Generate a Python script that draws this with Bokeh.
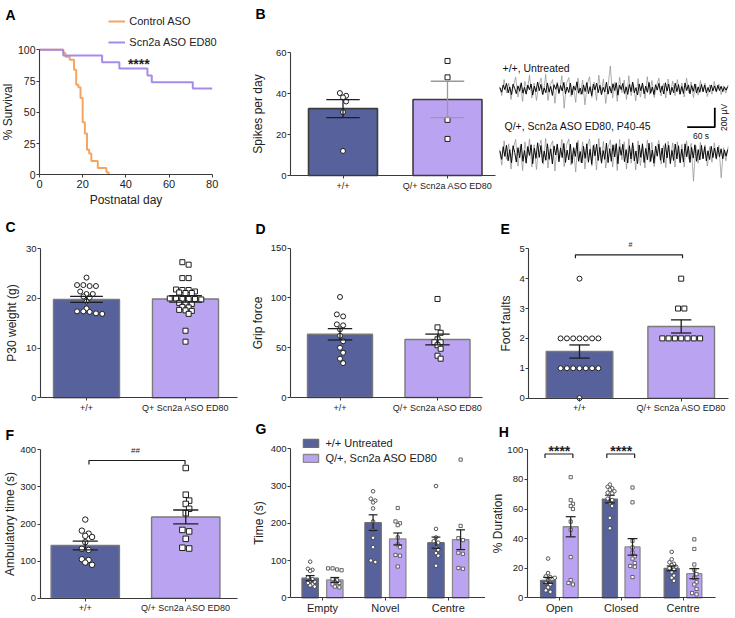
import numpy as np
from bokeh.plotting import figure
from bokeh.models import Range1d, FixedTicker, Label, Legend, LegendItem
from bokeh.layouts import row, column
from bokeh.embed import file_html
from bokeh.resources import INLINE

FONT = "Liberation Sans"
BLUE = "#57619B"
PURPLE = "#BAA3F0"
ORANGE = "#F5A55F"
LAV = "#A58BEB"
AX = "#3a3a3a"
INK = "#1e1e1e"

# ---------------- data ----------------
# A: survival
A_SERIES = ["Control ASO", "Scn2a ASO ED80"]
A_CTRL_DAY = [0, 11, 12, 14, 16, 17, 18, 19, 20, 21, 22, 23, 24, 27, 31, 32]
A_CTRL_SURV = [100, 97.5, 94.5, 92, 84, 72, 70, 61.5, 42, 33, 20, 17, 11, 5.5, 2, 0]
A_ASO_DAY = [0, 11, 29, 37, 50, 52, 71, 80]
A_ASO_SURV = [100, 95.5, 90, 85, 79.5, 74, 69, 69]
A_SIG = "****"

# B: spikes per day
B_CATS = ["+/+", "Q/+ Scn2a ASO ED80"]
B_MEAN = [32.7, 37.2]
B_SEM = [4.4, 8.9]
B_WT = [39, 40.3, 38.2, 36.2, 31, 12]
B_Q = [56, 48, 27.2, 17.9]

# B traces: successive sample amplitudes (microvolts)
TR_LABELS = ["+/+, Untreated", "Q/+, Scn2a ASO ED80, P40-45"]
T1_IN = [12, -35, 40, -8, 55, -42, 20, -60, 48, 5, -50, 30, -25, 62, -45, 15, -55, 38, -10, 50,
         -65, 28, -30, 70, -20, 45, -58, 10, -40, 60, -35, 25, -68, 42, -5, 55, -48, 33, -22, 66,
         -52, 18, -38, 58, -62, 30, -15, 72, -45, 8, -56, 40, -28, 64, -50, 22, -70, 48, -12, 58,
         -40, 35, -60, 15, -33, 68, -55, 26, -44, 52, -18, 62, -66, 38, -8, 55, -48, 20, -58, 45,
         -30, 70, -42, 12, -64, 50, -20, 60, -52, 28, -36, 66, -46, 18, -60, 42, -14, 56, -38, 30,
         -54, 62, -24, 48, -62, 16, -40, 58, -30, 44, -56, 24, -48, 60, -18, 40, -52, 34, -26, 50,
         -44, 20, -36, 46, -30, 38, -42, 14, -34, 40, -22, 30, -28, 36, -18, 26, -30, 20, -14, 22]
T1_OUT = [20, -70, 95, -40, 60, -110, 30, 120, -85, 45, -130, 75, -20, 140, -95, 60, -120, 35, 110, -60,
          150, -120, 40, 95, -150, 70, -30, 135, -200, 55, 115, -80, 25, -140, 110, -60, 90, -165, 45, 125,
          -90, 70, -120, 140, -50, 100, -150, 30, 235, -95, 65, -130, 120, -40, 90, -110, 135, -70, 50, -125,
          105, -85, 40, -100, 125, -60, 85, -90, 30, 110, -75, 55, -95, 100, -45, 80, -70, 95, -55, 60,
          -85, 110, -40, 70, -90, 50, -65, 85, -30, 60, -80, 40, -55, 75, -35, 50, -60, 30, -45, 40]
T2_IN = [25, -60, 70, -30, 85, -75, 40, -95, 80, 10, -88, 60, -45, 98, -80, 30, -100, 72, -20, 90,
         -105, 55, -50, 110, -40, 82, -96, 25, -70, 100, -60, 48, -108, 78, -15, 95, -86, 58, -42, 104,
         -92, 35, -66, 96, -102, 60, -30, 112, -80, 20, -98, 74, -50, 100, -90, 44, -110, 82, -24, 96,
         -72, 64, -100, 30, -60, 108, -94, 50, -80, 90, -36, 102, -106, 70, -18, 94, -84, 40, -98, 80,
         -56, 110, -76, 26, -104, 88, -40, 100, -92, 52, -64, 106, -82, 36, -100, 76, -28, 96, -70, 56,
         -94, 102, -46, 84, -104, 32, -72, 98, -56, 80, -96, 46, -86, 100, -34, 74, -92, 62, -48, 90,
         -80, 40, -66, 84, -54, 70, -76, 28, -62, 74, -42, 56, -52, 66, -34, 48, -56, 38, -28, 40]
T2_OUT = [40, -120, 130, -60, 100, -160, 55, 145, -130, 80, -175, 120, -40, 150, -140, 90, -165, 60, 140, -110,
          155, -150, 70, 130, -180, 100, -55, 145, -135, 85, 150, -120, 45, -190, 135, -90, 120, -160, 70, 150,
          -130, 95, -170, 155, -75, 125, -150, 60, 140, -140, 90, -175, 145, -65, 120, -160, 150, -100, 80, -170,
          130, -125, 70, -150, 140, -90, 115, -135, 55, 135, -110, 85, -145, 125, -70, 110, -140, 120, -80, 95,
          -140, 130, -60, 105, -285, 80, -100, 115, -55, 90, -130, 70, -90, 110, -60, 85, -250, 60, -75, 70]
TRACE_SECONDS = 497
TRACE_GAP_UV = -667
SCALE_T = 60
SCALE_UV = 200

# C: P30 weight
C_CATS = ["+/+", "Q+ Scn2a ASO ED80"]
C_MEAN = [19.8, 19.9]
C_SEM = [0.6, 0.65]
C_WT = [24.2, 22.7, 22.5, 22.5, 22.7, 21.4, 20.9, 20.9, 20.4, 20.2, 19.4, 18.0, 17.4, 17.4,
        17.0, 16.9, 17.3]
C_Q = [27.3, 26.8, 24.1, 24.1, 21.7, 21.8, 21.4, 21.7, 21.1, 21.2, 21.1, 20.0, 19.9, 19.9,
       19.8, 20.0, 19.9, 19.0, 19.1, 18.9, 18.3, 18.2, 17.6, 17.7, 17.5, 16.9, 13.5, 11.3]

# D: grip force
D_CATS = ["+/+", "Q/+ Scn2a ASO ED80"]
D_MEAN = [63.5, 58.3]
D_SEM = [5.7, 5.4]
D_WT = [101, 83.5, 81.5, 73.5, 72.5, 68.5, 62, 56.5, 50, 45, 39, 34.5]
D_Q = [99, 70.5, 65, 58.5, 55.5, 55.5, 52.5, 49, 42, 39]

# E: foot faults
E_CATS = ["+/+", "Q/+ Scn2a ASO ED80"]
E_MEAN = [1.56, 2.4]
E_SEM = [0.22, 0.22]
E_WT = [4, 2, 2, 2, 2, 2, 2, 2, 1, 1, 1, 1, 1, 1, 1, 0]
E_Q = [4, 3, 3, 2, 2, 2, 2, 2, 2, 2]
E_SIG = "#"

# F: ambulatory time
F_CATS = ["+/+", "Q/+ Scn2a ASO ED80"]
F_MEAN = [142, 219]
F_SEM = [11.6, 18.8]
F_WT = [212, 182, 174, 168, 165, 151, 133, 130, 105, 103, 96, 90]
F_Q = [351, 279, 263, 254, 241, 229, 184, 180, 160, 136, 134]
F_SIG = "##"

# G: time (s)
G_SERIES = ["+/+ Untreated", "Q/+, Scn2a ASO ED80"]
G_CATS = ["Empty", "Novel", "Centre"]
G_MEAN_WT = [52.7, 201.8, 148]
G_SEM_WT = [7, 21, 15]
G_MEAN_Q = [48, 158, 156]
G_SEM_Q = [6.5, 16, 26.5]
G_PTS_WT = [[97, 78, 75, 72, 55, 50, 46, 43, 40, 36, 33, 30],
            [286, 266, 261, 256, 240, 205, 182, 161, 136, 100, 96],
            [300, 185, 162, 152, 148, 136, 129, 120, 113, 86]]
G_PTS_Q = [[79, 79, 76, 74, 50, 47, 42, 40, 36, 32, 30, 28],
           [241, 205, 200, 195, 162, 143, 136, 115, 113, 84],
           [371, 193, 160, 155, 121, 118, 80, 78]]

# H: % duration
H_CATS = ["Open", "Closed", "Centre"]
H_MEAN_WT = [11.8, 66.7, 19.9]
H_SEM_WT = [2, 2.6, 1.6]
H_MEAN_Q = [48, 34.4, 16.3]
H_SEM_Q = [6.8, 5.6, 3.4]
H_PTS_WT = [[26.5, 16.7, 14.5, 14, 13.5, 12, 10, 9, 7, 5, 4],
            [76.5, 75, 74, 73, 72, 71, 70.5, 67, 66, 64, 62, 54, 47],
            [31, 26, 24, 23, 22, 21, 20, 19, 17.5, 15, 13.5, 11.5]]
H_PTS_Q = [[81.5, 66, 63.5, 62, 60, 51.5, 46, 27.5, 12, 10, 9],
           [74.5, 64.5, 38.5, 34, 30.5, 28, 26.5, 23.5, 21.5, 21, 14],
           [39.5, 33, 22.5, 19, 16, 13.5, 10.5, 9, 6, 3.2, 2.3]]
H_SIG = "****"


# ---------------- layout helpers ----------------
class Pan:
    """A figure whose frame fills its canvas; page pixel <-> data mapping."""

    def __init__(self, x0, y0, w, h, X0, SX, Y0, SY):
        self.x0, self.y0, self.w, self.h = x0, y0, w, h
        self.X0, self.SX, self.Y0, self.SY = X0, SX, Y0, SY

    def dx(self, px):
        return (px - self.X0) / self.SX

    def dy(self, py):
        return (self.Y0 - py) / self.SY

    def fig(self, axes=True):
        kw = dict(width=self.w, height=self.h,
                  x_range=Range1d(self.dx(self.x0), self.dx(self.x0 + self.w)),
                  y_range=Range1d(self.dy(self.y0 + self.h), self.dy(self.y0)),
                  output_backend="svg", toolbar_location=None, title=None, min_border=0)
        if not axes:
            kw.update(x_axis_location=None, y_axis_location=None)
        p = figure(**kw)
        p.outline_line_color = None
        p.grid.visible = False
        p.border_fill_color = "white"
        return p


def style_axes(p, pan, yaxis_px, xend_px, xticks, xlabels, yticks, ylabel, xlabel=None,
               xfs="9px", yfs="9.5px", ystand=2, xstand=2):
    for ax in p.axis:
        ax.axis_line_color = AX
        ax.axis_line_width = 1.1
        ax.major_tick_line_color = AX
        ax.major_tick_out = 3
        ax.major_tick_in = 0
        ax.minor_tick_line_color = None
        ax.major_label_text_font = FONT
        ax.major_label_text_color = "#222222"
        ax.axis_label_text_font = FONT
        ax.axis_label_text_font_style = "normal"
        ax.axis_label_text_font_size = "12px"
        ax.axis_label_text_color = "#222222"
    xa = pan.dx(yaxis_px)
    p.yaxis.fixed_location = xa
    p.yaxis.bounds = (yticks[0], yticks[-1])
    p.yaxis.ticker = FixedTicker(ticks=yticks)
    p.yaxis.major_label_text_font_size = yfs
    p.yaxis.major_label_standoff = 1
    p.yaxis.axis_label = ylabel
    p.yaxis.axis_label_standoff = ystand
    p.xaxis.fixed_location = 0
    p.xaxis.bounds = (xa, pan.dx(xend_px))
    p.xaxis.ticker = FixedTicker(ticks=xticks)
    if xlabels is not None:
        p.xaxis.major_label_overrides = {t: l for t, l in zip(xticks, xlabels)}
    p.xaxis.major_label_text_font_size = xfs
    p.xaxis.major_label_standoff = xstand
    if xlabel:
        p.xaxis.axis_label = xlabel
        p.xaxis.axis_label_standoff = 2


def letter(p, pan, lx, ly, ch):
    p.add_layout(Label(x=pan.dx(lx), y=pan.dy(ly), text=ch, text_font=FONT,
                       text_font_size="14px", text_font_style="bold",
                       text_baseline="middle", text_align="left", text_color="black"))


def note(p, pan, px, py, text, fs, bold=False):
    p.add_layout(Label(x=pan.dx(px), y=pan.dy(py), text=text, text_font=FONT,
                       text_font_size=fs, text_font_style="bold" if bold else "normal",
                       text_align="center", text_baseline="middle", text_color=INK))


def legend_at(p, pan, items, left_px, bottom_px, **kw):
    # legend tuple location = bottom-left corner, in pixels from the frame's bottom-left
    lg = Legend(items=items, location=(left_px - pan.x0, pan.y0 + pan.h - bottom_px),
                orientation="vertical", padding=0, margin=0, border_line_color=None,
                background_fill_alpha=0, label_text_font=FONT, label_text_color="#222222",
                **kw)
    p.add_layout(lg, "center")


def swarm(vals, ypu, xpu, d):
    idx = sorted(range(len(vals)), key=lambda i: -vals[i])
    rows = []
    for i in idx:
        y = vals[i] * ypu
        if rows and abs(rows[-1][0] - y) < 0.45 * d:
            rows[-1][1].append(i)
        else:
            rows.append([y, [i]])
    offs = [0.0] * len(vals)
    prev = None
    for y, members in rows:
        n = len(members)
        shift = 0.0
        if prev is not None and abs(prev[0] - y) < d and (n % 2) == (prev[2] % 2):
            shift = 0.5 * d if prev[1] == 0 else 0.0
        for j, i in enumerate(members):
            offs[i] = ((j - (n - 1) / 2) * d + shift) / xpu
        prev = (y, shift, n)
    return offs


def errbars(p, xs, m, s, cw, colors, lw=1.3):
    lo = [a - b for a, b in zip(m, s)]
    hi = [a + b for a, b in zip(m, s)]
    p.segment(x0=xs, y0=lo, x1=xs, y1=hi, line_color=colors, line_width=lw)
    p.segment(x0=[x - cw / 2 for x in xs], y0=hi, x1=[x + cw / 2 for x in xs], y1=hi,
              line_color=colors, line_width=lw)
    p.segment(x0=[x - cw / 2 for x in xs], y0=lo, x1=[x + cw / 2 for x in xs], y1=lo,
              line_color=colors, line_width=lw)


def bracket(p, xa, xb, level, drop):
    p.line(x=[xa, xa, xb, xb], y=[level - drop, level, level, level - drop],
           line_color=INK, line_width=1.2)


def bar2(p, pan, means, sems, wt, q, size, cap_w, bar_w, outline, outline_w,
         err_colors=(INK, INK)):
    xs = [0.5, 1.5]
    p.vbar(x=xs, top=means, bottom=0, width=bar_w, fill_color=[BLUE, PURPLE],
           line_color=outline, line_width=outline_w)
    ow = swarm(wt, pan.SY, pan.SX, size + 1.3)
    p.scatter(x=[xs[0] + o for o in ow], y=wt, marker="circle", size=size,
              fill_color="white", line_color=INK, line_width=1)
    oq = swarm(q, pan.SY, pan.SX, size + 1.3)
    p.scatter(x=[xs[1] + o for o in oq], y=q, marker="square", size=size,
              fill_color="white", line_color=INK, line_width=1)
    errbars(p, xs, means, sems, cap_w, list(err_colors))
    return xs


def grouped(p, pan, m_wt, s_wt, m_q, s_q, pts_wt, pts_q, off, bw, cw, size=3.6):
    n = len(m_wt)
    xw = [i - off for i in range(n)]
    xq = [i + off for i in range(n)]
    rb = p.vbar(x=xw, top=m_wt, bottom=0, width=bw, fill_color=BLUE,
                line_color="#6e6e6e", line_width=1.3)
    rq = p.vbar(x=xq, top=m_q, bottom=0, width=bw, fill_color=PURPLE,
                line_color="#8a8a8a", line_width=1.3)
    for i in range(n):
        o = swarm(pts_wt[i], pan.SY, pan.SX, size + 0.9)
        p.scatter(x=[xw[i] + v for v in o], y=pts_wt[i], marker="circle", size=size,
                  fill_color="white", line_color="#444444", line_width=0.9)
        o = swarm(pts_q[i], pan.SY, pan.SX, size + 0.9)
        p.scatter(x=[xq[i] + v for v in o], y=pts_q[i], marker="square", size=size - 0.4,
                  fill_color="white", line_color="#555555", line_width=0.9)
    errbars(p, xw, m_wt, s_wt, cw, [INK] * n, lw=1.2)
    errbars(p, xq, m_q, s_q, cw, [INK] * n, lw=1.2)
    return rb, rq, xw, xq


# ---------------- panels (page-pixel geometry) ----------------
PA = Pan(0, 0, 245, 209, 39.0, 2.159, 174.3, 1.25)
PB = Pan(245, 0, 252, 209, 290.25, 104.5, 175, 2.045)
PT = Pan(497, 0, 238, 209, 499, 0.46, 88.3, 0.097)
PC = Pan(0, 209, 245, 205, 36.5, 99, 397.3, 4.967)
PD = Pan(245, 209, 240, 205, 290.75, 97.5, 397, 0.9953)
PE = Pan(485, 209, 250, 205, 528.15, 101.7, 397.6, 29.86)
PF = Pan(0, 414, 245, 204, 34.5, 100.5, 597.7, 0.371)
PG = Pan(245, 414, 240, 204, 322, 62.9, 597.3, 0.3725)
PH = Pan(485, 414, 250, 204, 558.9, 61.8, 597.3, 1.48)

# ---- A ----
pa = PA.fig()
style_axes(pa, PA, 39.0, 211.7, [0, 20, 40, 60, 80], None, [0, 25, 50, 75, 100],
           "% Survival", "Postnatal day", xfs="11px", yfs="10.5px", ystand=0)
r1 = pa.step(A_CTRL_DAY, A_CTRL_SURV, mode="after", line_color=ORANGE, line_width=2)
r2 = pa.step(A_ASO_DAY, A_ASO_SURV, mode="after", line_color=LAV, line_width=2)
legend_at(pa, PA, [LegendItem(label=A_SERIES[0], renderers=[r1]),
                   LegendItem(label=A_SERIES[1], renderers=[r2])],
          108.3, 13.7 + 35, glyph_width=17, glyph_height=14, label_height=14, spacing=7,
          label_standoff=4, label_text_font_size="11px")
note(pa, PA, 138.3, 63.8, A_SIG, "14px", bold=True)
letter(pa, PA, 5, 14.2, "A")

# ---- B bar ----
pb = PB.fig()
style_axes(pb, PB, 290, 495, [0.5, 1.5], B_CATS, [0, 20, 40, 60], "Spikes per day", ystand=8)
bar2(pb, PB, B_MEAN, B_SEM, B_WT, B_Q, size=5, cap_w=0.32, bar_w=0.66, outline="#3c3c3c",
     outline_w=1.6, err_colors=(INK, "#9a9a9a"))
letter(pb, PB, 255, 13.3, "B")

# ---- B traces ----
pt = PT.fig(axes=False)
for k, (outer, inner) in enumerate([(T1_OUT, T1_IN), (T2_OUT, T2_IN)]):
    base = k * TRACE_GAP_UV
    to = np.linspace(0, TRACE_SECONDS, len(outer))
    ti = np.linspace(1, TRACE_SECONDS - 1, len(inner))
    pt.line(to, [base + v for v in outer], line_color="#8c8c8c", line_width=0.7)
    pt.line(ti, [base + v for v in inner], line_color="#0a0a0a", line_width=1.0)
pt.add_layout(Label(x=PT.dx(502), y=PT.dy(67.5), text=TR_LABELS[0], text_font=FONT,
                    text_font_size="10.5px", text_baseline="middle", text_color="#111111"))
pt.add_layout(Label(x=PT.dx(504), y=PT.dy(125.5), text=TR_LABELS[1], text_font=FONT,
                    text_font_size="10.5px", text_baseline="middle", text_color="#111111"))
SB_T, SB_Y = PT.dx(714.3), PT.dy(126.7)
pt.line([SB_T - SCALE_T, SB_T, SB_T], [SB_Y, SB_Y, SB_Y + SCALE_UV], line_color="black",
        line_width=1.8)
pt.add_layout(Label(x=SB_T - SCALE_T / 2, y=PT.dy(135), text=f"{SCALE_T} s", text_font=FONT,
                    text_font_size="8.5px", text_align="center", text_baseline="middle",
                    text_color="#111111"))
pt.add_layout(Label(x=PT.dx(723.5), y=SB_Y + SCALE_UV / 2, text=f"{SCALE_UV} µV",
                    text_font=FONT, text_font_size="8.5px", text_align="center",
                    text_baseline="middle", angle=np.pi / 2, text_color="#111111"))

# ---- C ----
pc = PC.fig()
style_axes(pc, PC, 40, 237, [0.5, 1.5], C_CATS, [0, 10, 20, 30], "P30 weight (g)", ystand=4)
bar2(pc, PC, C_MEAN, C_SEM, C_WT, C_Q, size=5, cap_w=0.33, bar_w=0.667, outline="#7a7a7a",
     outline_w=1.4)
letter(pc, PC, 5, 226.3, "C")

# ---- D ----
pd_ = PD.fig()
style_axes(pd_, PD, 290, 482, [0.5, 1.5], D_CATS, [0, 50, 100, 150], "Grip force", ystand=3)
bar2(pd_, PD, D_MEAN, D_SEM, D_WT, D_Q, size=5, cap_w=0.25, bar_w=0.667, outline="#7a7a7a",
     outline_w=1.4)
letter(pd_, PD, 255, 228.3, "D")

# ---- E ----
pe = PE.fig()
style_axes(pe, PE, 528.3, 728, [0.5, 1.5], E_CATS, [0, 1, 2, 3, 4, 5], "Foot faults", ystand=3)
xe = bar2(pe, PE, E_MEAN, E_SEM, E_WT, E_Q, size=5, cap_w=0.2, bar_w=0.655,
          outline="#7a7a7a", outline_w=1.4)
bracket(pe, xe[0] - 0.04, xe[1] + 0.013, PE.dy(254.3), PE.dy(254.3) - PE.dy(257.7))
note(pe, PE, 630, 244, E_SIG, "7px")
letter(pe, PE, 500, 228.8, "E")

# ---- F ----
pf = PF.fig()
style_axes(pf, PF, 39.5, 237, [0.5, 1.5], F_CATS, [0, 100, 200, 300, 400],
           "Ambulatory time (s)", ystand=1)
xf = bar2(pf, PF, F_MEAN, F_SEM, F_WT, F_Q, size=5.5, cap_w=0.25, bar_w=0.68,
          outline="#7a7a7a", outline_w=1.4)
bracket(pf, xf[0] + 0.037, xf[1] - 0.007, PF.dy(460), PF.dy(460) - PF.dy(464))
note(pf, PF, 135, 449.5, F_SIG, "8px")
letter(pf, PF, 5, 434.2, "F")

# ---- G ----
pg = PG.fig()
style_axes(pg, PG, 290, 485, [0, 1, 2], G_CATS, [0, 100, 200, 300, 400], "Time (s)",
           xfs="11px", ystand=2, xstand=1)
rb, rq, _, _ = grouped(pg, PG, G_MEAN_WT, G_SEM_WT, G_MEAN_Q, G_SEM_Q, G_PTS_WT, G_PTS_Q,
                       off=0.196, bw=0.26, cw=0.14)
legend_at(pg, PG, [LegendItem(label=G_SERIES[0], renderers=[rb]),
                   LegendItem(label=G_SERIES[1], renderers=[rq])],
          301.4, 436.7 + 27, glyph_width=19, glyph_height=10, label_height=12, spacing=3,
          label_standoff=5, label_text_font_size="11px")
letter(pg, PG, 255, 428.8, "G")

# ---- H ----
ph = PH.fig()
style_axes(ph, PH, 526.7, 715, [0, 1, 2], H_CATS, [0, 20, 40, 60, 80, 100], "% Duration",
           xfs="11px", ystand=0, xstand=1)
_, _, xw, xq = grouped(ph, PH, H_MEAN_WT, H_SEM_WT, H_MEAN_Q, H_SEM_Q, H_PTS_WT, H_PTS_Q,
                       off=0.183, bw=0.243, cw=0.16)
for gi in (0, 1):
    bracket(ph, xw[gi] - 0.05, xq[gi] + 0.035, PH.dy(453.5), PH.dy(453.5) - PH.dy(457.5))
    note(ph, PH, PH.X0 + PH.SX * (xw[gi] + xq[gi]) / 2, 450, H_SIG, "14px", bold=True)
letter(ph, PH, 498.3, 431.7, "H")

layout = column(row(pa, pb, pt, spacing=0), row(pc, pd_, pe, spacing=0),
                row(pf, pg, ph, spacing=0), spacing=0)
open("out.html", "w").write(file_html(layout, INLINE))
